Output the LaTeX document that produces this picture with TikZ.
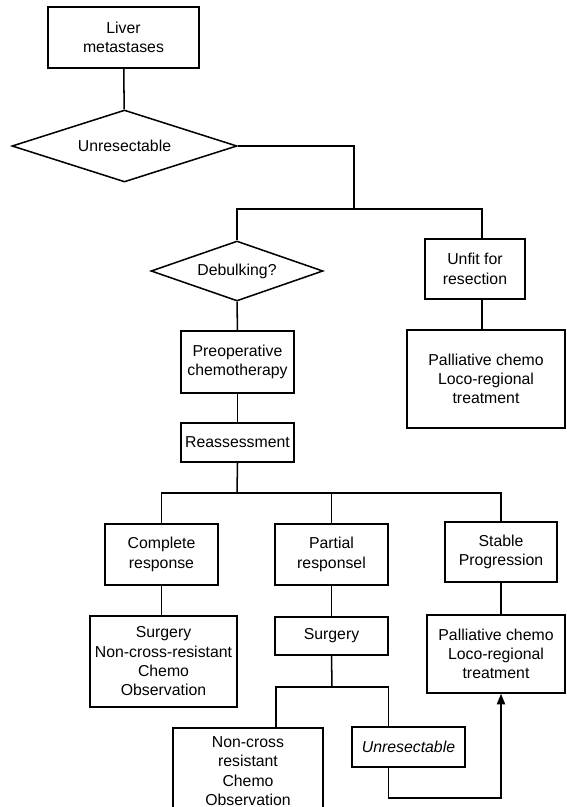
\documentclass[tikz,border=0pt]{standalone}
\usepackage{fontspec}
\setmainfont{Liberation Sans}
\usetikzlibrary{positioning, shapes.geometric, arrows.meta, calc}

\begin{document}
\begin{tikzpicture}[
  x=0.03cm, y=-0.03cm,
  box/.style={draw, line width=1.3pt, align=center, inner sep=1pt, font=\fontsize{13.5}{16.5}\selectfont},
  decision/.style={diamond, draw, line width=1.3pt, align=center, inner sep=0pt, font=\fontsize{13.5}{16.5}\selectfont},
  link/.style={line width=1.3pt},
  >={Triangle[length=9pt, width=7pt]}
]
\useasboundingbox (0,0) rectangle (567,807);

% Top of the tree
\node[box, minimum width=4.53cm, minimum height=1.83cm] (liver) at (123.5,37.5) {Liver\\metastases};
\node[decision, aspect=3.1, minimum width=6.75cm, minimum height=2.16cm] (unres) at (124.5,146) {Unresectable};
\node[decision, aspect=2.9, minimum width=5.16cm, minimum height=1.8cm] (debulk) at (237,271) {Debulking?};
\node[box, minimum width=3.0cm, minimum height=1.8cm] (unfit) at (475,269) {Unfit for\\resection};
\node[box, minimum width=4.74cm, minimum height=2.94cm] (palli1) at (486,379) {Palliative chemo\\Loco-regional\\treatment};

% Chemotherapy branch
\node[box, minimum width=3.39cm, minimum height=1.86cm] (preop) at (237.5,362) {Preoperative\\chemotherapy};
\node[box, minimum width=3.39cm, minimum height=1.17cm] (reass) at (237.5,442.5) {Reassessment};

% Responses
\node[box, minimum width=3.39cm, minimum height=1.83cm] (complete) at (161.5,554.5) {Complete\\response};
\node[box, minimum width=3.39cm, minimum height=1.83cm] (partial) at (331.5,554.5) {Partial\\responsel};
\node[box, minimum width=3.36cm, minimum height=1.8cm] (stable) at (501,552) {Stable\\Progression};

% Treatments
\node[box, minimum width=4.41cm, minimum height=2.73cm] (surg1) at (163.5,661.5) {Surgery\\Non-cross-resistant\\Chemo\\Observation};
\node[box, minimum width=3.39cm, minimum height=1.14cm] (surg2) at (331.5,636) {Surgery};
\node[box, minimum width=4.14cm, minimum height=2.34cm] (palli2) at (496,654) {Palliative chemo\\Loco-regional\\treatment};
\node[box, minimum width=4.5cm, minimum height=2.58cm] (nonx) at (248,771) {Non-cross\\resistant\\Chemo\\Observation};
\node[box, minimum width=3.39cm, minimum height=1.2cm, font=\fontsize{13.5}{16.5}\selectfont\itshape] (unres2) at (408.5,747) {Unresectable};

% Split points
\coordinate (split1) at (354,209);
\coordinate (split2) at (237,493);
\coordinate (split3) at (332,687);
\path ($(unfit.north)+(7,0)$) coordinate (unfitx);

% Connectors
\draw[link] (liver) -- (unres);
\draw[link] (unres.east) -| (split1);
\draw[link] (debulk.north) |- (split1) -| (unfitx);
\draw[link] (unfitx |- unfit.south) -- (unfitx |- palli1.north);
\draw[link] (debulk) -- (preop);
\draw[link] (preop) -- (reass);
\draw[link] (reass.south) -- (split2);
\draw[link] (complete.north) |- (split2) -| (stable.north);
\draw[link] (partial.north) -- (partial.north |- split2);
\draw[link] (complete.south) -- (complete.south |- surg1.north);
\draw[link] (partial) -- (surg2);
\draw[link] (stable.south) -- (stable.south |- palli2.north);
\draw[link] (surg2.south) -- (split3);
\draw[link] ($(nonx.north)+(28,0)$) |- (split3) -| ($(unres2.north)+(-20,0)$);
\draw[link, ->] ($(unres2.south)+(-20,0)$) -- ++(0,30) -| (stable.south |- palli2.south);

\end{tikzpicture}
\end{document}
